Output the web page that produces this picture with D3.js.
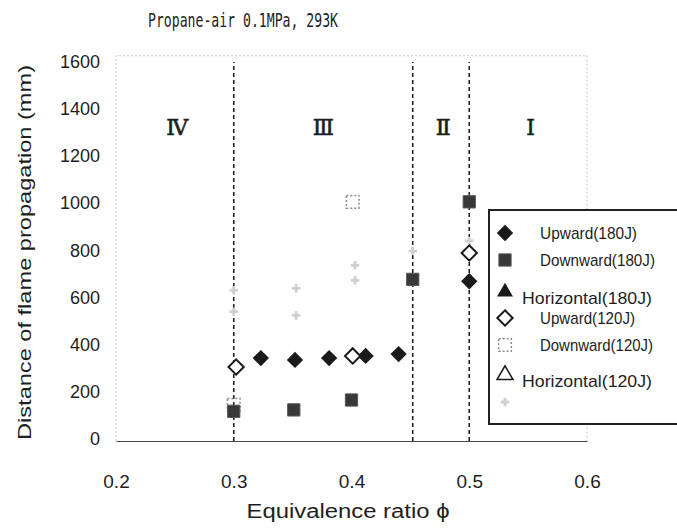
<!DOCTYPE html>
<html lang="en">
<head>
<meta charset="UTF-8">
<title>Distance of flame propagation</title>
<script src="https://d3js.org/d3.v7.min.js"></script>
<style>
  body { margin: 0; background: #fff; }
  text { font-family: "Liberation Sans", Arial, sans-serif; fill: #1e1e1e; }
  .title { font-family: "DejaVu Sans Mono", monospace; }
  .region { font-family: "DejaVu Serif", "Liberation Serif", serif; }
</style>
</head>
<body>
<svg width="677" height="532"></svg>
<script>
// axis ticks
const xTicks = [0.2, 0.3, 0.4, 0.5, 0.6];
const yTicks = [0, 200, 400, 600, 800, 1000, 1200, 1400, 1600];

// regime boundaries and names
const regionBounds = [0.3, 0.452, 0.5];
const regionNames = ["Ⅳ", "Ⅲ", "Ⅱ", "Ⅰ"];
const regionPhi = [0.252, 0.376, 0.478, 0.552];

// measured points [phi, distance mm]
const upward180 = [[0.323, 352], [0.352, 344], [0.381, 352], [0.412, 361], [0.44, 369], [0.5, 678]];
const downward180 = [[0.3, 126], [0.351, 132], [0.4, 174], [0.452, 686], [0.5, 1015]];
const horizontal180 = [];
const upward120 = [[0.302, 314], [0.401, 361], [0.5, 798]];
const downward120 = [[0.3, 154], [0.401, 1015]];
const horizontal120 = [];
const faintSeries = [[0.3, 549], [0.3, 640], [0.353, 533], [0.353, 648], [0.403, 682], [0.403, 746], [0.452, 806], [0.5, 849]];

const legendLabels = ["Upward(180J)", "Downward(180J)", "Horizontal(180J)", "Upward(120J)", "Downward(120J)", "Horizontal(120J)", ""];

const svg = d3.select("svg");

const x = d3.scaleLinear().domain([0.2, 0.6]).range([116, 587]);
const y = d3.scaleLinear().domain([0, 1600]).range([441, 64]);

// faint plot frame
const frameTop = y(1635);
svg.append("path")
    .attr("d", `M${x(0.2)},${y(0)}V${frameTop}H${x(0.6)}V${y(0)}`)
    .attr("fill", "none")
    .attr("stroke", "#c4c4c4")
    .attr("stroke-width", 1)
    .attr("stroke-dasharray", "2,2");

// x axis
const xAxis = svg.append("g")
    .attr("transform", `translate(0,${y(0)})`)
    .call(d3.axisBottom(x).tickValues(xTicks).tickSize(0).tickPadding(34).tickFormat(d3.format(".1f")));
xAxis.select(".domain").attr("stroke", "#444").attr("stroke-width", 1.2);
xAxis.selectAll("text").style("font-size", "19px").attr("fill", "#1e1e1e");

// y axis
const yAxis = svg.append("g")
    .attr("transform", `translate(${x(0.2)},0)`)
    .call(d3.axisLeft(y).tickValues(yTicks).tickSize(0).tickPadding(16).tickFormat(d3.format("d")));
yAxis.select(".domain").remove();
yAxis.selectAll("text").style("font-size", "18px").attr("fill", "#1e1e1e").attr("dy", "0.2em");

// regime boundaries
svg.selectAll(".bound")
  .data(regionBounds)
  .join("line")
    .attr("x1", d => x(d)).attr("x2", d => x(d))
    .attr("y1", y(0)).attr("y2", y(1600) - 2)
    .attr("stroke", "#222")
    .attr("stroke-width", 1.6)
    .attr("stroke-dasharray", "4,3");

svg.selectAll(".region")
  .data(regionNames)
  .join("text")
    .attr("class", "region")
    .attr("x", (d, i) => x(regionPhi[i]))
    .attr("y", 135)
    .attr("text-anchor", "middle")
    .attr("stroke", "#1e1e1e")
    .attr("stroke-width", 0.6)
    .style("font-size", "22px")
    .text(d => d);

// marker drawers
const diamond = d3.symbol().type(d3.symbolDiamond2);
const square = d3.symbol().type(d3.symbolSquare);
const triangle = d3.symbol().type(d3.symbolTriangle);
const cross = d3.symbol().type(d3.symbolCross);

const styles = [
  {path: diamond.size(170)(), fill: "#1a1a1a", stroke: "none"},
  {path: square.size(150)(), fill: "#383838", stroke: "#555", width: 1},
  {path: triangle.size(110)(), fill: "#1a1a1a", stroke: "none"},
  {path: diamond.size(150)(), fill: "#fff", stroke: "#1a1a1a", width: 2},
  {path: square.size(160)(), fill: "none", stroke: "#8a8a8a", width: 1.5, dash: "2,2"},
  {path: triangle.size(110)(), fill: "#fff", stroke: "#1a1a1a", width: 1.5},
  {path: cross.size(40)(), fill: "#cfcfcf", stroke: "none"}
];

const allSeries = [upward180, downward180, horizontal180, upward120, downward120, horizontal120, faintSeries];
const drawOrder = [6, 4, 1, 0, 2, 3, 5];

drawOrder.forEach(k => {
  const st = styles[k];
  svg.append("g").selectAll("path")
    .data(allSeries[k])
    .join("path")
      .attr("transform", d => `translate(${x(d[0])},${y(d[1])})`)
      .attr("d", st.path)
      .attr("fill", st.fill)
      .attr("stroke", st.stroke)
      .attr("stroke-width", st.width || 0)
      .attr("stroke-dasharray", st.dash || null);
});

// legend
const legend = svg.append("g");
legend.append("rect")
    .attr("x", 489).attr("y", 210)
    .attr("width", 200).attr("height", 214)
    .attr("fill", "#fff")
    .attr("stroke", "#222")
    .attr("stroke-width", 2);

const legendY = [233, 260, 292, 318, 345, 375, 402];
const legendWidths = [97, 115, 130, 95, 113, 130, 0];

legendLabels.forEach((lab, i) => {
  const st = styles[i];
  const horiz = lab.startsWith("Horizontal");
  legend.append("path")
      .attr("transform", `translate(505,${legendY[i]})`)
      .attr("d", st.path)
      .attr("fill", st.fill)
      .attr("stroke", st.stroke)
      .attr("stroke-width", st.width || 0)
      .attr("stroke-dasharray", st.dash || null);
  if (lab) {
    legend.append("text")
        .attr("x", horiz ? 522 : 540)
        .attr("y", legendY[i] + (horiz ? 12 : 6))
        .attr("textLength", legendWidths[i])
        .attr("lengthAdjust", "spacingAndGlyphs")
        .style("font-size", "17px")
        .text(lab);
  }
});

// titles
svg.append("text")
    .attr("class", "title")
    .attr("x", 148).attr("y", 27)
    .attr("textLength", 190)
    .attr("lengthAdjust", "spacingAndGlyphs")
    .style("font-size", "19px")
    .text("Propane-air 0.1MPa, 293K");

svg.append("text")
    .attr("transform", `translate(31,${(y(0) + y(1600)) / 2}) rotate(-90)`)
    .attr("text-anchor", "middle")
    .attr("textLength", 375)
    .attr("lengthAdjust", "spacingAndGlyphs")
    .style("font-size", "19px")
    .text("Distance of flame propagation (mm)");

svg.append("text")
    .attr("x", 348).attr("y", 518)
    .attr("text-anchor", "middle")
    .attr("textLength", 203)
    .attr("lengthAdjust", "spacingAndGlyphs")
    .style("font-size", "20px")
    .text("Equivalence ratio ϕ");
</script>
</body>
</html>
